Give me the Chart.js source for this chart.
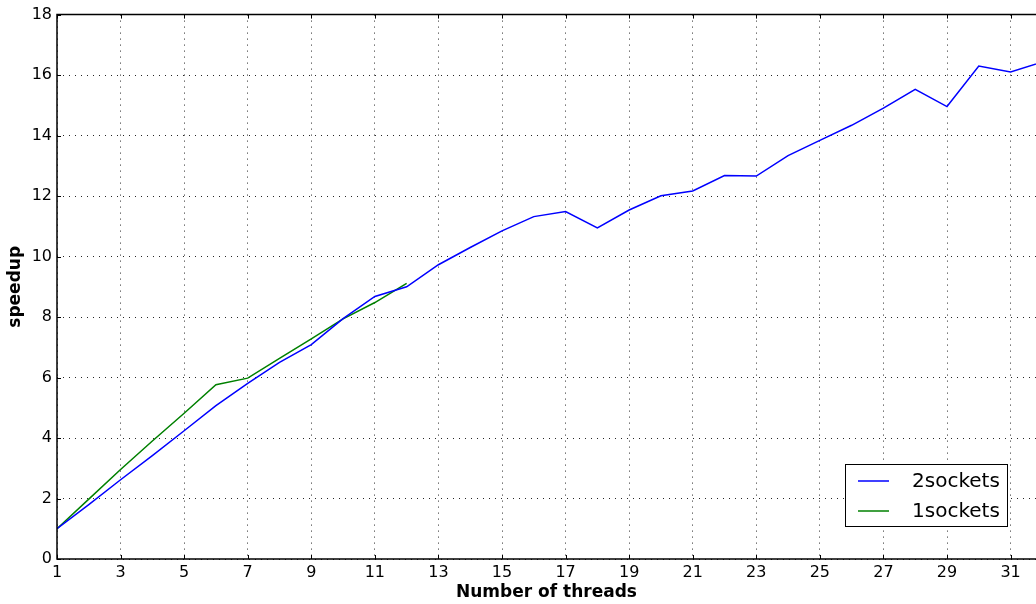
<!DOCTYPE html>
<html>
<head>
<meta charset="utf-8">
<script src="https://cdn.jsdelivr.net/npm/chart.js@4/dist/chart.umd.min.js"></script>
<style>
  html, body { margin: 0; padding: 0; background: #fff; }
  #holder { width: 1036px; height: 604px; }
</style>
</head>
<body>
<div id="holder"><canvas id="chartHolder"></canvas></div>
<script>
const threads2 = [1, 2, 3, 4, 5, 6, 7, 8, 9, 10, 11, 12, 13, 14, 15, 16, 17, 18, 19, 20, 21, 22, 23, 24, 25, 26, 27, 28, 29, 30, 31, 32];
const speedup2 = [1.0, 1.8, 2.62, 3.42, 4.24, 5.07, 5.81, 6.5, 7.09, 7.95, 8.68, 9.0, 9.73, 10.3, 10.85, 11.32, 11.49, 10.95, 11.54, 12.01, 12.17, 12.68, 12.66, 13.34, 13.84, 14.34, 14.91, 15.53, 14.96, 16.3, 16.1, 16.43];
const threads1 = [1, 2, 3, 4, 5, 6, 7, 8, 9, 10, 11, 12];
const speedup1 = [1.0, 1.98, 2.96, 3.9, 4.82, 5.76, 5.98, 6.63, 7.28, 7.94, 8.48, 9.11];
const xTicks = [1, 3, 5, 7, 9, 11, 13, 15, 17, 19, 21, 23, 25, 27, 29, 31];
const yTicks = [0, 2, 4, 6, 8, 10, 12, 14, 16, 18];

const chartHolder = document.getElementById("chartHolder");

const tickFont = { family: "'DejaVu Sans'", size: 16 };
const titleFont = { family: "'DejaVu Sans'", size: 17, weight: "bold" };

// frame, inward ticks and the legend box, matplotlib style
const framePlugin = {
    id: "frame",
    afterDatasetsDraw(chart)
    {
        const ctx = chart.ctx;
        const a = chart.chartArea;
        const xs = chart.scales.x;
        const ys = chart.scales.y;
        ctx.save();
        ctx.strokeStyle = "#000";
        ctx.lineWidth = 1;
        xs.ticks.forEach(t => {
            const px = Math.round(xs.getPixelForValue(t.value)) + 0.5;
            ctx.beginPath();
            ctx.moveTo(px, a.bottom); ctx.lineTo(px, a.bottom - 4);
            ctx.moveTo(px, a.top); ctx.lineTo(px, a.top + 4);
            ctx.stroke();
        });
        ys.ticks.forEach(t => {
            const py = Math.round(ys.getPixelForValue(t.value)) + 0.5;
            ctx.beginPath();
            ctx.moveTo(a.left, py); ctx.lineTo(a.left + 4, py);
            ctx.stroke();
        });
        ctx.lineWidth = 1.5;
        ctx.beginPath();
        ctx.moveTo(a.right, a.top);
        ctx.lineTo(a.left, a.top);
        ctx.lineTo(a.left, a.bottom);
        ctx.lineTo(a.right, a.bottom);
        ctx.stroke();

        // legend
        const boxW = 162, boxH = 62;
        const bx = a.right - 191, by = a.bottom - 95;
        ctx.fillStyle = "#fff";
        ctx.fillRect(bx, by, boxW, boxH);
        ctx.lineWidth = 1;
        ctx.strokeRect(bx + 0.5, by + 0.5, boxW, boxH);
        ctx.font = "20px 'DejaVu Sans'";
        ctx.textBaseline = "middle";
        chart.data.datasets.forEach((ds, i) => {
            const ly = by + 17 + i * 30;
            ctx.strokeStyle = ds.borderColor;
            ctx.lineWidth = 1.5;
            ctx.beginPath();
            ctx.moveTo(bx + 13, ly); ctx.lineTo(bx + 44, ly);
            ctx.stroke();
            ctx.fillStyle = "#000";
            ctx.fillText(ds.label, bx + 67, ly + 1);
        });
        ctx.restore();
    }
};

new Chart(chartHolder, {
    type: "line",
    data: {
        datasets: [
            {
                label: "2sockets",
                data: threads2.map((t, i) => ({ x: t, y: speedup2[i] })),
                borderColor: "#0000ff",
                borderWidth: 1.5,
                pointRadius: 0,
                tension: 0
            },
            {
                label: "1sockets",
                data: threads1.map((t, i) => ({ x: t, y: speedup1[i] })),
                borderColor: "#008000",
                borderWidth: 1.5,
                pointRadius: 0,
                tension: 0
            }
        ]
    },
    options: {
        responsive: true,
        maintainAspectRatio: false,
        animation: false,
        layout: { padding: { top: 13, left: 0, right: 0, bottom: 0 } },
        plugins: {
            legend: { display: false },
            tooltip: { enabled: false }
        },
        scales: {
            x: {
                type: "linear",
                min: 1,
                max: 31.8,
                afterBuildTicks: scale => { scale.ticks = xTicks.map(v => ({ value: v })); },
                afterFit: scale => { scale.height = 45; },
                ticks: { font: tickFont, color: "#000", padding: 4, maxRotation: 0, autoSkip: false },
                grid: { color: "rgba(0,0,0,0.85)", lineWidth: 1, drawTicks: false, tickLength: 0 },
                border: { display: false, dash: [1, 5] },
                title: { display: true, text: "Number of threads", font: titleFont, color: "#000", padding: { top: 0, bottom: 1 } }
            },
            y: {
                min: 0,
                max: 18,
                afterBuildTicks: scale => { scale.ticks = yTicks.map(v => ({ value: v })); },
                afterFit: scale => { scale.width = 57; },
                ticks: { font: tickFont, color: "#000", padding: 5 },
                grid: { color: "rgba(0,0,0,0.85)", lineWidth: 1, drawTicks: false, tickLength: 0 },
                border: { display: false, dash: [1, 5] },
                title: { display: true, text: "speedup", font: titleFont, color: "#000", padding: { top: 5, bottom: 0 } }
            }
        }
    },
    plugins: [framePlugin]
});
</script>
</body>
</html>
